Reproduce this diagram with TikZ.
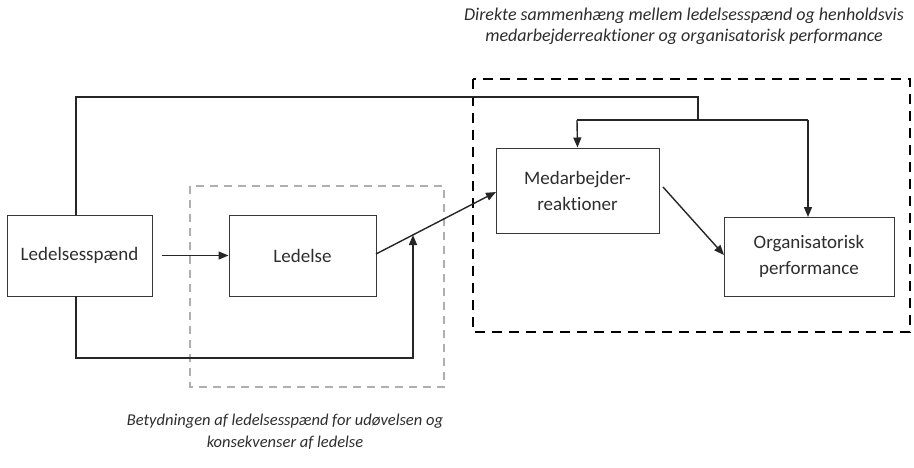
\documentclass[tikz,border=0pt]{standalone}
\usepackage{fontspec}
\setmainfont[Ligatures=NoCommon]{Carlito}
\usetikzlibrary{arrows.meta}
\definecolor{txt}{RGB}{45,45,45}
\definecolor{boxline}{RGB}{55,55,55}
\definecolor{lightdash}{RGB}{175,175,175}
\tikzset{
  box/.style={draw=boxline, line width=1pt, text=txt, align=center, inner sep=0pt, font=\fontsize{19}{26}\selectfont},
  conn/.style={draw=black!85, line width=1.4pt},
  arr/.style={conn, -{Triangle[length=10pt,width=8pt]}},
  caption/.style={text=txt, align=center, font=\itshape},
}
\begin{document}
\begin{tikzpicture}[x=1pt,y=-1pt]
\useasboundingbox (0,0) rectangle (914,467);
% group frames
\draw[lightdash, line width=1.6pt, dash pattern=on 8pt off 6pt] (190,186) rectangle (444,387);
\draw[black, line width=2.6pt, dash pattern=on 10pt off 7pt] (473,79) rectangle (910,332);
% nodes
\node[box, minimum width=145pt, minimum height=81pt] (ls) at (79.5,255.5) {Ledelsesspænd};
\node[box, minimum width=147pt, minimum height=81pt] (led) at (302.5,255.5) {Ledelse};
\node[box, minimum width=163pt, minimum height=85pt] (med) at (577.5,190.5) {Medarbejder-\\reaktioner};
\node[box, minimum width=170pt, minimum height=79pt] (org) at (809,256.5) {Organisatorisk\\performance};
% captions
\node[caption, font=\fontsize{18}{21}\selectfont\itshape] (top) at (684,26) {Direkte sammenhæng mellem ledelsesspænd og henholdsvis\\medarbejderreaktioner og organisatorisk performance};
\node[caption, font=\fontsize{16.5}{22}\selectfont\itshape] (bot) at (285,432) {Betydningen af ledelsesspænd for udøvelsen og\\konsekvenser af ledelse};
% helper coordinates
\coordinate (lsTop) at (76,215);
\coordinate (lsBot) at (76,296);
\coordinate (split) at (698,120);
\coordinate (meet) at (413,235);
% connectors
\draw[arr, shorten <=9pt] (ls.east) -- (led.west);
\draw[conn] (lsTop) -- (76,97) -- (698,97) -- (split);
\draw[conn] (split) -- (577,120);
\draw[conn] (split) -- (808,120);
\draw[arr] (577,120) -- (med.north);
\draw[arr] (808,120) -- (808,217);
\draw[arr] (376,254) -- (496,192);
\draw[arr] (lsBot) -- (76,358) -- (413,358) -- (meet);
\draw[arr] (663,187) -- (724,255);
\end{tikzpicture}
\end{document}
